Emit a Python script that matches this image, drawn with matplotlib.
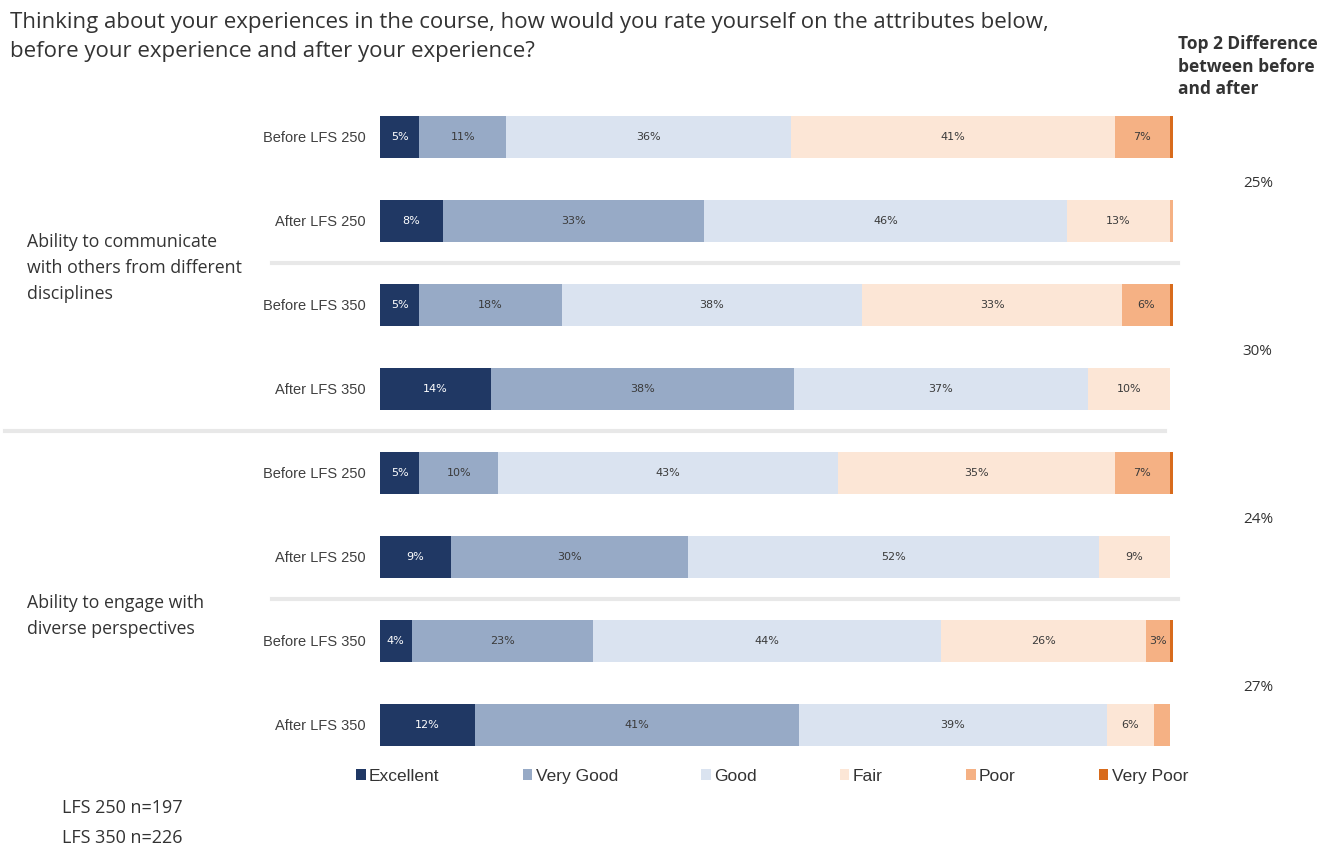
import matplotlib
matplotlib.use("Agg")
import matplotlib.pyplot as plt
from matplotlib.patches import Patch
import numpy as np

# survey responses, one row per bar (top to bottom)
row_labels = ["Before LFS 250", "After LFS 250", "Before LFS 350", "After LFS 350",
              "Before LFS 250", "After LFS 250", "Before LFS 350", "After LFS 350"]
categories = ["Excellent", "Very Good", "Good", "Fair", "Poor", "Very Poor"]

excellent = [5, 8, 5, 14.1, 5, 9, 4, 12]
very_good = [11, 33, 18, 38.3, 10, 30, 23, 41]
good      = [36, 46, 38, 37.2, 43, 52, 44, 39]
fair      = [41, 13, 33, 10.4, 35, 9, 26, 6]
poor      = [7, 0.4, 6, 0, 7, 0, 3, 2]
very_poor = [0.4, 0, 0.4, 0, 0.4, 0, 0.4, 0]

# which segments get a printed label (tiny slivers are left blank)
show_label = [
    [1, 1, 1, 1, 1, 1, 1, 1],
    [1, 1, 1, 1, 1, 1, 1, 1],
    [1, 1, 1, 1, 1, 1, 1, 1],
    [1, 1, 1, 1, 1, 1, 1, 1],
    [1, 0, 1, 0, 1, 0, 1, 0],
    [0, 0, 0, 0, 0, 0, 0, 0],
]

groups = ["Ability to communicate\nwith others from different\ndisciplines",
          "Ability to engage with\ndiverse perspectives"]
top2_diff = ["25%", "30%", "24%", "27%"]
sample_notes = ["LFS 250 n=197", "LFS 350 n=226"]

colors = ["#203864", "#97aac6", "#dae3f0", "#fce6d6", "#f5b184", "#d86b1c"]
text_colors = ["white", "#3a3a3a", "#3a3a3a", "#3a3a3a", "#3a3a3a", "#3a3a3a"]

W, H = 1320, 851
fig = plt.figure(figsize=(W / 100, H / 100), dpi=100)
ax = fig.add_axes([380 / W, 1 - 767 / H, 793 / W, 672 / H])

series = [excellent, very_good, good, fair, poor, very_poor]
y = np.arange(len(row_labels))
left = np.zeros(len(row_labels))
narrow = ["Liberation Sans Narrow", "DejaVu Sans"]
for k, vals in enumerate(series):
    vals = np.array(vals, dtype=float)
    ax.barh(y, vals, left=left, height=0.51, color=colors[k], edgecolor="none")
    for i, v in enumerate(vals):
        if show_label[k][i] and v > 0:
            ax.text(left[i] + v / 2, y[i], f"{round(v)}%", ha="center", va="center",
                    fontsize=8, color=text_colors[k], family=narrow)
    left += vals

ax.set_xlim(0, left.max())
ax.set_ylim(7.5, -0.5)
ax.set_yticks(y)
ax.set_yticklabels(row_labels, fontsize=10.5, color="#404040", family="Liberation Sans")
ax.tick_params(axis="y", length=0, pad=10)
ax.set_xticks([])
for s in ax.spines.values():
    s.set_visible(False)

# light separators between the pairs and between the two groups
tr = ax.get_yaxis_transform()
for yy, x0, x1 in [(1.5, -0.136, 1.006), (3.5, -0.473, 0.99), (5.5, -0.136, 1.006)]:
    ax.plot([x0, x1], [yy, yy], color="#e8e8e8", lw=3, transform=tr, clip_on=False)

sans = "Open Sans"

# top-2 box difference, one per before/after pair
for j, d in enumerate(top2_diff):
    ax.text(1.088, 2 * j + 0.55, d, transform=tr, ha="left", va="center",
            fontsize=11, color="#333333", family=sans)

fig.text(1178 / W, 1 - 35 / H, "Top 2 Difference\nbetween before\nand after",
         ha="left", va="top", fontsize=12.5, fontweight="bold", color="#333333",
         family=sans, linespacing=1.33)

fig.text(10 / W, 1 - 12 / H,
         "Thinking about your experiences in the course, how would you rate yourself on the attributes below,\n"
         "before your experience and after your experience?",
         ha="left", va="top", fontsize=16, color="#333333", family=sans, linespacing=1.5)

fig.text(27 / W, 1 - 268 / H, groups[0], ha="left", va="center", fontsize=12.8,
         color="#333333", family=sans, linespacing=1.6)
fig.text(27 / W, 1 - 616 / H, groups[1], ha="left", va="center", fontsize=12.8,
         color="#333333", family=sans, linespacing=1.6)

fig.text(62 / W, 1 - 808 / H, sample_notes[0], ha="left", va="center", fontsize=13,
         color="#333333", family=sans)
fig.text(62 / W, 1 - 838 / H, sample_notes[1], ha="left", va="center", fontsize=13,
         color="#333333", family=sans)

handles = [Patch(facecolor=c, edgecolor="none") for c in colors]
leg = ax.legend(handles, categories, ncol=6, loc="center left",
                bbox_to_anchor=(-0.05, -0.005 - 6 / 672, 1.089, 0.0), mode="expand",
                frameon=False, handlelength=0.55, handleheight=0.55, handletextpad=0.2,
                prop={"family": "Liberation Sans", "size": 12.5})
for t in leg.get_texts():
    t.set_color("#333333")

fig.savefig("out.png", dpi=100)
